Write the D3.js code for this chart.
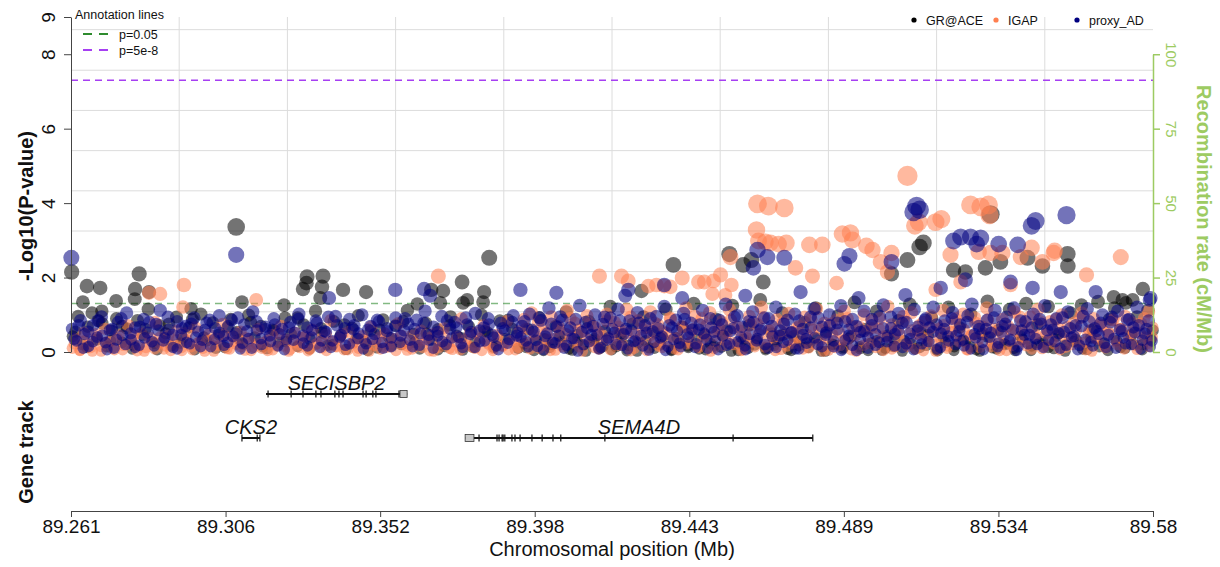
<!DOCTYPE html>
<html>
<head>
<meta charset="utf-8">
<script src="https://cdn.jsdelivr.net/npm/d3@7"></script>
<style>
  body { margin: 0; background: #ffffff; }
  text { font-family: "Liberation Sans", Arial, Helvetica, sans-serif; }
</style>
</head>
<body>
<svg id="chart" width="1220" height="567"></svg>
<script>
// ---- region and axis settings ----
const regionStart = 89.261;
const regionEnd = 89.58;
const xTickLabels = ["89.261", "89.306", "89.352", "89.398", "89.443", "89.489", "89.534", "89.58"];
const yTicks = [0, 2, 4, 6, 8, 9];
const recTicks = [0, 25, 50, 75, 100];
const yGridValues = [1.08, 2.16, 3.25, 4.33, 5.41, 6.49, 7.57, 8.66];
const thresholdNames = ["p=0.05", "p=5e-8"];
const thresholdP = [0.05, 5e-8];

// ---- GR@ACE: [position (Mb), -log10 p] ----
const graceTop = [
  [89.2612, 2.15], [89.2657, 1.77], [89.2696, 1.72], [89.2645, 1.34], [89.2743, 1.37], [89.2701, 1.10],
  [89.2799, 1.69], [89.2811, 2.10], [89.2798, 1.42], [89.2840, 1.61], [89.2964, 1.16], [89.3097, 3.36],
  [89.3114, 1.34], [89.3238, 1.26], [89.3306, 2.02], [89.3304, 1.85], [89.3294, 1.69], [89.3353, 2.04],
  [89.3350, 1.75], [89.3412, 1.67], [89.3480, 1.61], [89.3345, 1.45], [89.3631, 1.29], [89.3699, 1.32],
  [89.3707, 1.64], [89.3672, 1.67], [89.3763, 1.88], [89.3766, 1.32], [89.3778, 1.40], [89.3828, 1.61],
  [89.3825, 1.34], [89.3843, 2.53], [89.4292, 1.64], [89.4386, 2.34], [89.4592, 2.34], [89.4551, 2.63],
  [89.4616, 2.47], [89.4651, 1.88], [89.5029, 2.10], [89.5076, 2.47], [89.5112, 2.82], [89.5123, 2.93],
  [89.5321, 3.70], [89.5548, 2.63], [89.5549, 2.31], [89.5770, 1.69], [89.5684, 1.48], [89.5710, 1.40],
  [89.5740, 1.40], [89.5212, 2.20], [89.5247, 2.15], [89.5350, 2.42], [89.5430, 2.53], [89.5474, 2.31],
  [89.5306, 2.26]
];
const graceBand = [
  [89.2615, 0.42], [89.2631, 0.96], [89.2644, 0.20], [89.2659, 0.68], [89.2672, 1.05], [89.2686, 0.33],
  [89.2702, 0.77], [89.2716, 0.14], [89.2730, 0.58], [89.2744, 0.90], [89.2761, 0.26], [89.2775, 0.63],
  [89.2790, 0.08], [89.2806, 0.85], [89.2822, 0.45], [89.2838, 1.15], [89.2855, 0.24], [89.2871, 0.72],
  [89.2889, 0.50], [89.2905, 0.16], [89.2921, 0.94], [89.2940, 0.38], [89.2958, 0.66], [89.2975, 0.06],
  [89.2993, 1.02], [89.3010, 0.30], [89.3028, 0.79], [89.3046, 0.47], [89.3063, 0.12], [89.3081, 0.88],
  [89.3099, 0.54], [89.3117, 0.21], [89.3134, 0.99], [89.3152, 0.40], [89.3170, 0.70], [89.3188, 0.09],
  [89.3205, 0.60], [89.3223, 0.25], [89.3241, 0.92], [89.3259, 0.48], [89.3278, 0.15], [89.3296, 0.74],
  [89.3314, 0.35], [89.3331, 1.10], [89.3350, 0.52], [89.3367, 0.18], [89.3385, 0.82], [89.3404, 0.43],
  [89.3421, 0.07], [89.3439, 0.65], [89.3457, 0.98], [89.3476, 0.28], [89.3494, 0.57], [89.3512, 0.11],
  [89.3530, 0.87], [89.3548, 0.39], [89.3566, 0.71], [89.3584, 0.20], [89.3602, 1.12], [89.3620, 0.49],
  [89.3638, 0.08], [89.3656, 0.78], [89.3674, 0.32], [89.3692, 0.61], [89.3711, 0.15], [89.3729, 0.95],
  [89.3747, 0.44], [89.3765, 0.05], [89.3783, 0.69], [89.3801, 0.27], [89.3820, 1.00], [89.3838, 0.53],
  [89.3856, 0.13], [89.3874, 0.84], [89.3892, 0.36], [89.3911, 0.62], [89.3928, 0.10],
  [89.3946, 0.22], [89.3958, 0.61], [89.3975, 0.04], [89.3990, 0.93], [89.4006, 0.35], [89.4021, 0.12],
  [89.4039, 0.70], [89.4055, 0.27], [89.4070, 1.08], [89.4088, 0.05], [89.4103, 0.46], [89.4119, 0.18],
  [89.4136, 0.83], [89.4151, 0.31], [89.4168, 0.09], [89.4184, 0.57], [89.4200, 1.22], [89.4217, 0.14],
  [89.4233, 0.40], [89.4249, 0.03], [89.4266, 0.76], [89.4282, 0.25], [89.4298, 0.95], [89.4315, 0.11],
  [89.4331, 0.52], [89.4347, 0.20], [89.4364, 1.15], [89.4380, 0.06], [89.4397, 0.38], [89.4413, 0.67],
  [89.4429, 0.16], [89.4446, 1.30], [89.4462, 0.08], [89.4478, 0.47], [89.4495, 0.23], [89.4511, 0.89],
  [89.4527, 0.13], [89.4544, 0.58], [89.4560, 1.25], [89.4577, 0.04], [89.4593, 0.34], [89.4609, 0.72],
  [89.4626, 0.19], [89.4642, 1.40], [89.4658, 0.10], [89.4675, 0.50], [89.4691, 0.29], [89.4707, 1.05],
  [89.4724, 0.07], [89.4740, 0.43], [89.4756, 0.17], [89.4773, 0.80], [89.4789, 0.26], [89.4805, 1.18],
  [89.4822, 0.02], [89.4838, 0.55], [89.4854, 0.21], [89.4871, 0.97], [89.4887, 0.12], [89.4903, 0.36],
  [89.4920, 1.33], [89.4936, 0.09], [89.4952, 0.62], [89.4969, 0.24], [89.4985, 1.10], [89.5001, 0.05],
  [89.5018, 0.45], [89.5034, 0.15], [89.5050, 0.85], [89.5067, 0.30], [89.5083, 1.28], [89.5099, 0.08],
  [89.5116, 0.53], [89.5132, 0.18], [89.5148, 0.92], [89.5165, 0.03], [89.5181, 0.40], [89.5197, 1.20],
  [89.5214, 0.14], [89.5230, 0.66], [89.5246, 0.27], [89.5263, 1.02], [89.5279, 0.06], [89.5295, 0.48],
  [89.5312, 1.36], [89.5328, 0.11], [89.5344, 0.59], [89.5361, 0.22], [89.5377, 1.14], [89.5393, 0.04],
  [89.5410, 0.42], [89.5426, 1.30], [89.5442, 0.16], [89.5459, 0.74], [89.5475, 0.28], [89.5491, 1.22],
  [89.5508, 0.09], [89.5524, 0.51], [89.5540, 0.19], [89.5557, 1.05], [89.5573, 0.33], [89.5589, 1.26],
  [89.5606, 0.07], [89.5622, 0.60], [89.5638, 1.35], [89.5655, 0.24], [89.5671, 0.88], [89.5687, 1.18],
  [89.5704, 0.12], [89.5720, 1.32], [89.5736, 0.46], [89.5753, 0.95], [89.5769, 0.20], [89.5785, 1.12],
  [89.5799, 0.58]
];
const graceBandExtra = [
  [89.2623, 0.55], [89.2657, 0.12], [89.2692, 0.84], [89.2726, 0.30], [89.2761, 0.70], [89.2795, 0.18],
  [89.2830, 0.62], [89.2864, 0.06], [89.2899, 0.76], [89.2933, 0.24], [89.2968, 0.88], [89.3002, 0.40],
  [89.3037, 0.10], [89.3071, 0.66], [89.3106, 0.34], [89.3140, 0.80], [89.3175, 0.14], [89.3209, 0.58],
  [89.3244, 0.28], [89.3278, 0.92], [89.3313, 0.08], [89.3347, 0.64], [89.3382, 0.20], [89.3416, 0.74],
  [89.3451, 0.36], [89.3485, 0.04], [89.3520, 0.60], [89.3554, 0.16], [89.3589, 0.82], [89.3623, 0.26],
  [89.3658, 0.50], [89.3692, 0.06], [89.3727, 0.72], [89.3761, 0.38], [89.3796, 0.12], [89.3830, 0.56],
  [89.3865, 0.22], [89.3899, 0.86],
  [89.3952, 0.12], [89.3978, 0.30], [89.4003, 0.04], [89.4027, 0.20], [89.4052, 0.42], [89.4078, 0.08],
  [89.4103, 0.26], [89.4128, 0.02], [89.4153, 0.36], [89.4178, 0.14], [89.4204, 0.06], [89.4229, 0.48],
  [89.4254, 0.18], [89.4279, 0.02], [89.4304, 0.30], [89.4330, 0.10], [89.4355, 0.40], [89.4380, 0.04],
  [89.4405, 0.22], [89.4430, 0.12], [89.4456, 0.34], [89.4481, 0.06], [89.4506, 0.16], [89.4531, 0.44],
  [89.4557, 0.02], [89.4582, 0.24], [89.4607, 0.10], [89.4632, 0.32], [89.4658, 0.06], [89.4683, 0.18],
  [89.4708, 0.46], [89.4733, 0.04], [89.4758, 0.28], [89.4784, 0.12], [89.4809, 0.38], [89.4834, 0.02],
  [89.4859, 0.20], [89.4885, 0.08], [89.4910, 0.42], [89.4935, 0.14], [89.4960, 0.04], [89.4986, 0.30],
  [89.5011, 0.10], [89.5036, 0.36], [89.5061, 0.02], [89.5087, 0.22], [89.5112, 0.12], [89.5137, 0.46],
  [89.5162, 0.06], [89.5188, 0.26], [89.5213, 0.04], [89.5238, 0.32], [89.5263, 0.14], [89.5289, 0.02],
  [89.5314, 0.40], [89.5339, 0.08], [89.5364, 0.20], [89.5390, 0.10], [89.5415, 0.34], [89.5440, 0.04],
  [89.5465, 0.24], [89.5491, 0.12], [89.5516, 0.44], [89.5541, 0.02], [89.5566, 0.28], [89.5592, 0.08],
  [89.5617, 0.38], [89.5642, 0.14], [89.5667, 0.04], [89.5693, 0.30], [89.5718, 0.10], [89.5743, 0.20],
  [89.5768, 0.06], [89.5793, 0.34]
];

// ---- IGAP ----
const igapTop = [
  [89.2840, 1.59], [89.2873, 1.56], [89.2943, 1.80], [89.2940, 1.21], [89.3156, 1.40], [89.3693, 2.04],
  [89.4168, 2.04], [89.4233, 2.04], [89.4253, 1.91], [89.4312, 1.77], [89.4336, 1.80], [89.4359, 1.77],
  [89.4377, 1.75], [89.4412, 1.99], [89.4460, 1.88], [89.4477, 1.88], [89.4504, 1.91], [89.4525, 2.07],
  [89.4557, 1.80], [89.4501, 1.56], [89.4539, 1.53], [89.4554, 2.55], [89.4634, 3.98], [89.4666, 3.92],
  [89.4713, 3.87], [89.4631, 3.28], [89.4637, 2.98], [89.4657, 2.96], [89.4672, 2.93], [89.4696, 2.90],
  [89.4719, 2.93], [89.4787, 2.88], [89.4825, 2.88], [89.4884, 3.17], [89.4908, 3.20], [89.4914, 3.01],
  [89.4955, 2.85], [89.4973, 2.74], [89.4997, 2.42], [89.5017, 2.15], [89.5029, 2.66], [89.5076, 4.73],
  [89.5109, 3.49], [89.5098, 3.39], [89.5176, 3.57], [89.5159, 3.49], [89.5262, 3.95], [89.5292, 3.90],
  [89.5315, 3.95], [89.5318, 3.68], [89.5442, 2.80], [89.5510, 2.72], [89.5705, 2.55], [89.5787, 1.08],
  [89.5203, 2.61], [89.5286, 2.69], [89.5321, 2.66], [89.5356, 2.66], [89.5410, 2.55], [89.5507, 2.66],
  [89.5474, 2.42], [89.4746, 2.26], [89.4796, 2.04], [89.4867, 1.85], [89.5159, 1.67], [89.5380, 1.80],
  [89.5604, 2.07], [89.5233, 1.88]
];
const igapBand = [
  [89.2614, 0.10], [89.2624, 0.35], [89.2637, 0.05], [89.2648, 0.52], [89.2660, 0.22], [89.2673, 0.02],
  [89.2686, 0.40], [89.2699, 0.15], [89.2711, 0.62], [89.2724, 0.28], [89.2738, 0.06], [89.2751, 0.45],
  [89.2765, 0.18], [89.2778, 0.72], [89.2792, 0.32], [89.2805, 0.03], [89.2818, 0.50], [89.2831, 0.12],
  [89.2845, 0.38], [89.2858, 0.80], [89.2871, 0.24], [89.2884, 0.08], [89.2897, 0.44], [89.2911, 0.19],
  [89.2924, 0.58], [89.2937, 0.04], [89.2951, 0.33], [89.2964, 0.14], [89.2977, 0.66], [89.2990, 0.27],
  [89.3004, 0.02], [89.3017, 0.48], [89.3030, 0.17], [89.3043, 0.36], [89.3057, 0.75], [89.3070, 0.09],
  [89.3083, 0.42], [89.3097, 0.21], [89.3110, 0.55], [89.3123, 0.05], [89.3136, 0.30], [89.3150, 0.13],
  [89.3163, 0.62], [89.3176, 0.25], [89.3190, 0.04], [89.3203, 0.46], [89.3216, 0.16], [89.3229, 0.70],
  [89.3243, 0.34], [89.3256, 0.07], [89.3269, 0.52], [89.3283, 0.20], [89.3296, 0.39], [89.3309, 0.03],
  [89.3322, 0.60], [89.3336, 0.23], [89.3349, 0.11], [89.3362, 0.47], [89.3376, 0.85], [89.3389, 0.15],
  [89.3402, 0.37], [89.3415, 0.06], [89.3429, 0.54], [89.3442, 0.26], [89.3455, 0.02], [89.3469, 0.43],
  [89.3482, 0.18], [89.3495, 0.68], [89.3508, 0.31], [89.3522, 0.08], [89.3535, 0.50], [89.3548, 0.14],
  [89.3562, 0.35], [89.3575, 0.77], [89.3588, 0.22], [89.3601, 0.05], [89.3615, 0.44], [89.3628, 0.17],
  [89.3641, 0.58], [89.3655, 0.29], [89.3668, 0.03], [89.3681, 0.49], [89.3694, 0.12], [89.3708, 0.64],
  [89.3721, 0.25], [89.3734, 0.07], [89.3748, 0.40], [89.3761, 0.90], [89.3774, 0.19], [89.3787, 0.53],
  [89.3801, 0.10], [89.3814, 0.36], [89.3827, 0.72], [89.3841, 0.21], [89.3854, 0.04], [89.3867, 0.47],
  [89.3880, 0.16], [89.3894, 0.82], [89.3907, 0.30], [89.3920, 0.06], [89.3933, 0.57],
  [89.3945, 0.88], [89.3957, 0.25], [89.3968, 1.05], [89.3980, 0.48], [89.3991, 0.10], [89.4003, 0.72],
  [89.4015, 0.33], [89.4026, 0.95], [89.4038, 0.05], [89.4050, 0.60], [89.4061, 0.20], [89.4073, 1.12],
  [89.4085, 0.42], [89.4096, 0.78], [89.4108, 0.14], [89.4120, 0.55], [89.4131, 0.98], [89.4143, 0.28],
  [89.4155, 0.67], [89.4166, 0.08], [89.4178, 0.45], [89.4190, 1.02], [89.4201, 0.35], [89.4213, 0.80],
  [89.4225, 0.18], [89.4236, 0.58], [89.4248, 1.15], [89.4260, 0.03], [89.4271, 0.50], [89.4283, 0.85],
  [89.4295, 0.22], [89.4306, 0.65], [89.4318, 1.08], [89.4330, 0.30], [89.4341, 0.74], [89.4353, 0.12],
  [89.4365, 0.52], [89.4376, 0.92], [89.4388, 0.38], [89.4400, 0.06], [89.4411, 0.70], [89.4423, 1.18],
  [89.4435, 0.26], [89.4446, 0.62], [89.4458, 0.15], [89.4470, 0.90], [89.4481, 0.44], [89.4493, 1.06],
  [89.4505, 0.09], [89.4516, 0.56], [89.4528, 0.82], [89.4540, 0.32], [89.4551, 1.14], [89.4563, 0.20],
  [89.4575, 0.68], [89.4586, 0.04], [89.4598, 0.47], [89.4610, 0.96], [89.4621, 0.27], [89.4633, 0.75],
  [89.4645, 1.20], [89.4656, 0.13], [89.4668, 0.58], [89.4680, 0.36], [89.4691, 0.88], [89.4703, 0.07],
  [89.4715, 0.50], [89.4726, 1.04], [89.4738, 0.23], [89.4750, 0.66], [89.4761, 0.40], [89.4773, 0.94],
  [89.4785, 0.11], [89.4796, 0.60], [89.4808, 1.16], [89.4820, 0.29], [89.4831, 0.78], [89.4843, 0.05],
  [89.4855, 0.46], [89.4866, 0.86], [89.4878, 0.18], [89.4890, 1.10], [89.4901, 0.34], [89.4913, 0.70],
  [89.4925, 0.02], [89.4936, 0.54], [89.4948, 1.00], [89.4960, 0.24], [89.4971, 0.64], [89.4983, 0.12],
  [89.4995, 0.90], [89.5006, 0.42], [89.5018, 1.22], [89.5030, 0.08], [89.5041, 0.57], [89.5053, 0.31],
  [89.5065, 0.83], [89.5076, 0.15], [89.5088, 1.06], [89.5100, 0.49], [89.5111, 0.72], [89.5123, 0.03],
  [89.5135, 0.38], [89.5146, 0.97], [89.5158, 0.21], [89.5170, 0.63], [89.5181, 1.12], [89.5193, 0.10],
  [89.5205, 0.52], [89.5216, 0.80], [89.5228, 0.28], [89.5240, 1.02], [89.5251, 0.06], [89.5263, 0.45],
  [89.5275, 0.92], [89.5286, 0.35], [89.5298, 0.68], [89.5310, 1.18], [89.5321, 0.14], [89.5333, 0.55],
  [89.5345, 0.25], [89.5356, 0.88], [89.5368, 0.04], [89.5380, 0.60], [89.5391, 1.08], [89.5403, 0.32],
  [89.5415, 0.74], [89.5426, 0.17], [89.5438, 0.95], [89.5450, 0.43], [89.5461, 1.15], [89.5473, 0.09],
  [89.5485, 0.50], [89.5496, 0.82], [89.5508, 0.22], [89.5520, 0.65], [89.5531, 1.00], [89.5543, 0.13],
  [89.5555, 0.40], [89.5566, 0.78], [89.5578, 0.27], [89.5590, 1.05], [89.5601, 0.06], [89.5613, 0.58],
  [89.5625, 0.90], [89.5636, 0.34], [89.5648, 0.70], [89.5660, 0.11], [89.5671, 0.48], [89.5683, 0.86],
  [89.5695, 0.20], [89.5706, 0.62], [89.5718, 0.96], [89.5730, 0.30], [89.5741, 0.53], [89.5753, 0.07],
  [89.5765, 0.76], [89.5776, 0.40], [89.5788, 0.15], [89.5798, 0.66]
];
const igapBandExtra = [
  [89.2620, 0.22], [89.2636, 0.04], [89.2651, 0.30], [89.2668, 0.12], [89.2683, 0.48], [89.2699, 0.02],
  [89.2714, 0.26], [89.2731, 0.10], [89.2746, 0.36], [89.2762, 0.06], [89.2778, 0.20], [89.2794, 0.44],
  [89.2809, 0.14], [89.2826, 0.02], [89.2841, 0.28], [89.2857, 0.08], [89.2873, 0.40], [89.2889, 0.16],
  [89.2904, 0.04], [89.2920, 0.32], [89.2936, 0.12], [89.2952, 0.52], [89.2968, 0.06], [89.2983, 0.24],
  [89.2999, 0.10], [89.3015, 0.34], [89.3031, 0.02], [89.3047, 0.18], [89.3062, 0.46], [89.3078, 0.08],
  [89.3094, 0.28], [89.3110, 0.14], [89.3126, 0.38], [89.3141, 0.04], [89.3157, 0.22], [89.3173, 0.10],
  [89.3189, 0.32], [89.3205, 0.06], [89.3221, 0.50], [89.3236, 0.16], [89.3252, 0.02], [89.3268, 0.26],
  [89.3284, 0.12], [89.3300, 0.42], [89.3315, 0.08], [89.3331, 0.20], [89.3347, 0.36], [89.3363, 0.04],
  [89.3379, 0.28], [89.3394, 0.14], [89.3410, 0.48], [89.3426, 0.06], [89.3442, 0.24], [89.3458, 0.10],
  [89.3473, 0.34], [89.3489, 0.02], [89.3505, 0.18], [89.3521, 0.40], [89.3537, 0.12], [89.3552, 0.26],
  [89.3568, 0.04], [89.3584, 0.44], [89.3600, 0.16], [89.3616, 0.08], [89.3631, 0.30], [89.3647, 0.12],
  [89.3663, 0.38], [89.3679, 0.02], [89.3695, 0.22], [89.3710, 0.46], [89.3726, 0.10], [89.3742, 0.28],
  [89.3758, 0.06], [89.3774, 0.34], [89.3789, 0.14], [89.3805, 0.52], [89.3821, 0.04], [89.3837, 0.26],
  [89.3853, 0.10], [89.3868, 0.40], [89.3884, 0.16], [89.3900, 0.06], [89.3916, 0.32], [89.3930, 0.12],
  [89.3940, 0.30], [89.3952, 0.62], [89.3964, 0.08], [89.3976, 0.44], [89.3987, 0.80], [89.3999, 0.18],
  [89.4011, 0.52], [89.4023, 0.04], [89.4035, 0.36], [89.4047, 0.70], [89.4058, 0.14], [89.4070, 0.48],
  [89.4082, 0.90], [89.4094, 0.24], [89.4106, 0.60], [89.4118, 0.02], [89.4129, 0.38], [89.4141, 0.76],
  [89.4153, 0.12], [89.4165, 0.54], [89.4177, 0.30], [89.4189, 0.84], [89.4200, 0.06], [89.4212, 0.42],
  [89.4224, 0.68], [89.4236, 0.20], [89.4248, 0.50], [89.4260, 0.94], [89.4271, 0.10], [89.4283, 0.34],
  [89.4295, 0.62], [89.4307, 0.04], [89.4319, 0.46], [89.4331, 0.78], [89.4342, 0.16], [89.4354, 0.56],
  [89.4366, 0.28], [89.4378, 0.88], [89.4390, 0.08], [89.4402, 0.40], [89.4413, 0.66], [89.4425, 0.22],
  [89.4437, 0.52], [89.4449, 0.96], [89.4461, 0.12], [89.4473, 0.36], [89.4484, 0.72], [89.4496, 0.02],
  [89.4508, 0.44], [89.4520, 0.64], [89.4532, 0.18], [89.4544, 0.50], [89.4555, 0.86], [89.4567, 0.26],
  [89.4579, 0.58], [89.4591, 0.06], [89.4603, 0.38], [89.4615, 0.74], [89.4626, 0.14], [89.4638, 0.48],
  [89.4650, 0.92], [89.4662, 0.30], [89.4674, 0.60], [89.4686, 0.04], [89.4697, 0.42], [89.4709, 0.80],
  [89.4721, 0.16], [89.4733, 0.54], [89.4745, 0.24], [89.4757, 0.70], [89.4768, 0.08], [89.4780, 0.46],
  [89.4792, 0.88], [89.4804, 0.20], [89.4816, 0.62], [89.4828, 0.02], [89.4839, 0.36], [89.4851, 0.76],
  [89.4863, 0.12], [89.4875, 0.52], [89.4887, 0.32], [89.4899, 0.90], [89.4910, 0.06], [89.4922, 0.44],
  [89.4934, 0.68], [89.4946, 0.18], [89.4958, 0.56], [89.4970, 0.84], [89.4981, 0.28], [89.4993, 0.62],
  [89.5005, 0.04], [89.5017, 0.40], [89.5029, 0.74], [89.5041, 0.14], [89.5052, 0.50], [89.5064, 0.96],
  [89.5076, 0.22], [89.5088, 0.58], [89.5100, 0.08], [89.5112, 0.46], [89.5123, 0.80], [89.5135, 0.26],
  [89.5147, 0.64], [89.5159, 0.02], [89.5171, 0.38], [89.5183, 0.72], [89.5194, 0.16], [89.5206, 0.54],
  [89.5218, 0.90], [89.5230, 0.30], [89.5242, 0.60], [89.5254, 0.06], [89.5265, 0.44], [89.5277, 0.78],
  [89.5289, 0.12], [89.5301, 0.50], [89.5313, 0.86], [89.5325, 0.24], [89.5336, 0.62], [89.5348, 0.04],
  [89.5360, 0.42], [89.5372, 0.70], [89.5384, 0.18], [89.5396, 0.56], [89.5407, 0.94], [89.5419, 0.28],
  [89.5431, 0.64], [89.5443, 0.08], [89.5455, 0.46], [89.5467, 0.82], [89.5478, 0.14], [89.5490, 0.52],
  [89.5502, 0.32], [89.5514, 0.88], [89.5526, 0.06], [89.5538, 0.40], [89.5549, 0.68], [89.5561, 0.20],
  [89.5573, 0.58], [89.5585, 0.92], [89.5597, 0.26], [89.5609, 0.48], [89.5620, 0.02], [89.5632, 0.36],
  [89.5644, 0.74], [89.5656, 0.16], [89.5668, 0.54], [89.5680, 0.86], [89.5691, 0.28], [89.5703, 0.62],
  [89.5715, 0.08], [89.5727, 0.44], [89.5739, 0.78], [89.5751, 0.18], [89.5762, 0.50], [89.5774, 0.90],
  [89.5786, 0.24], [89.5797, 0.40]
];

// ---- proxy_AD ----
const proxyTop = [
  [89.2611, 2.53], [89.3097, 2.61], [89.3651, 1.69], [89.3669, 1.51], [89.3371, 1.45], [89.4253, 1.67],
  [89.4244, 1.51], [89.4359, 1.80], [89.4412, 1.45], [89.4634, 2.74], [89.4663, 2.55], [89.4713, 2.53],
  [89.4622, 2.26], [89.4905, 2.58], [89.4890, 2.37], [89.5029, 2.42], [89.5112, 3.82], [89.5103, 3.92],
  [89.5094, 3.76], [89.5212, 2.98], [89.5233, 3.09], [89.5262, 3.09], [89.5292, 3.06], [89.5280, 2.90],
  [89.5345, 2.90], [89.5401, 2.88], [89.5454, 3.52], [89.5442, 3.39], [89.5545, 3.68], [89.5790, 1.40],
  [89.4598, 1.51], [89.4761, 1.61], [89.4932, 1.45], [89.5070, 1.53], [89.5174, 1.72], [89.5247, 1.94],
  [89.5380, 1.88], [89.5445, 1.72], [89.5528, 1.61], [89.5631, 1.61], [89.5793, 1.45], [89.4041, 1.59],
  [89.3935, 1.67], [89.3566, 1.67]
];
const proxyBand = [
  [89.2613, 0.62], [89.2626, 0.30], [89.2638, 0.85], [89.2650, 0.48], [89.2662, 0.15], [89.2675, 0.72],
  [89.2687, 0.40], [89.2700, 0.95], [89.2712, 0.25], [89.2724, 0.58], [89.2737, 0.10], [89.2749, 0.80],
  [89.2762, 0.45], [89.2774, 1.05], [89.2787, 0.33], [89.2799, 0.66], [89.2811, 0.18], [89.2824, 0.88],
  [89.2836, 0.52], [89.2849, 0.28], [89.2861, 0.75], [89.2873, 1.12], [89.2886, 0.38], [89.2898, 0.60],
  [89.2911, 0.12], [89.2923, 0.82], [89.2935, 0.46], [89.2948, 0.70], [89.2960, 0.22], [89.2973, 0.92],
  [89.2985, 0.55], [89.2997, 0.32], [89.3010, 0.78], [89.3022, 0.14], [89.3035, 0.64], [89.3047, 0.98],
  [89.3059, 0.42], [89.3072, 0.26], [89.3084, 0.86], [89.3096, 0.50], [89.3109, 0.08], [89.3121, 0.74],
  [89.3134, 0.36], [89.3146, 1.08], [89.3158, 0.58], [89.3171, 0.20], [89.3183, 0.68], [89.3196, 0.44],
  [89.3208, 0.90], [89.3220, 0.16], [89.3233, 0.62], [89.3245, 0.34], [89.3257, 0.80], [89.3270, 0.52],
  [89.3282, 1.02], [89.3295, 0.24], [89.3307, 0.66], [89.3319, 0.40], [89.3332, 0.84], [89.3344, 0.12],
  [89.3357, 0.56], [89.3369, 0.94], [89.3381, 0.30], [89.3394, 0.72], [89.3406, 0.46], [89.3419, 0.18],
  [89.3431, 0.88], [89.3443, 0.60], [89.3456, 0.36], [89.3468, 1.00], [89.3480, 0.22], [89.3493, 0.70],
  [89.3505, 0.48], [89.3518, 0.82], [89.3530, 0.10], [89.3542, 0.64], [89.3555, 0.38], [89.3567, 0.92],
  [89.3580, 0.26], [89.3592, 0.58], [89.3604, 0.76], [89.3617, 0.14], [89.3629, 0.86], [89.3641, 0.50],
  [89.3654, 1.10], [89.3666, 0.32], [89.3679, 0.68], [89.3691, 0.44], [89.3703, 0.96], [89.3716, 0.20],
  [89.3728, 0.62], [89.3741, 0.80], [89.3753, 0.40], [89.3765, 0.12], [89.3778, 0.74], [89.3790, 0.54],
  [89.3802, 1.04], [89.3815, 0.28], [89.3827, 0.66], [89.3840, 0.90], [89.3852, 0.46], [89.3864, 0.16],
  [89.3877, 0.78], [89.3889, 0.58], [89.3902, 0.34], [89.3914, 0.98], [89.3926, 0.52],
  [89.3940, 0.70], [89.3951, 0.30], [89.3962, 1.02], [89.3974, 0.55], [89.3985, 0.15], [89.3996, 0.85],
  [89.4008, 0.42], [89.4019, 1.18], [89.4030, 0.26], [89.4042, 0.68], [89.4053, 0.95], [89.4064, 0.10],
  [89.4076, 0.58], [89.4087, 0.36], [89.4098, 0.88], [89.4110, 1.25], [89.4121, 0.20], [89.4132, 0.64],
  [89.4144, 0.46], [89.4155, 1.00], [89.4166, 0.08], [89.4178, 0.75], [89.4189, 0.32], [89.4200, 0.92],
  [89.4212, 0.52], [89.4223, 1.15], [89.4234, 0.18], [89.4246, 0.62], [89.4257, 0.84], [89.4268, 0.28],
  [89.4280, 1.06], [89.4291, 0.44], [89.4302, 0.72], [89.4314, 0.05], [89.4325, 0.56], [89.4336, 0.96],
  [89.4348, 0.38], [89.4359, 1.22], [89.4370, 0.14], [89.4382, 0.66], [89.4393, 0.86], [89.4404, 0.24],
  [89.4416, 1.04], [89.4427, 0.48], [89.4438, 0.78], [89.4450, 0.12], [89.4461, 0.60], [89.4472, 1.12],
  [89.4484, 0.34], [89.4495, 0.90], [89.4506, 0.54], [89.4518, 0.06], [89.4529, 0.74], [89.4540, 1.28],
  [89.4552, 0.22], [89.4563, 0.64], [89.4574, 0.98], [89.4586, 0.40], [89.4597, 0.16], [89.4608, 0.82],
  [89.4620, 1.08], [89.4631, 0.30], [89.4642, 0.58], [89.4654, 0.92], [89.4665, 0.10], [89.4676, 0.70],
  [89.4688, 1.20], [89.4699, 0.44], [89.4710, 0.26], [89.4722, 0.86], [89.4733, 0.52], [89.4744, 1.02],
  [89.4756, 0.08], [89.4767, 0.62], [89.4778, 0.36], [89.4790, 0.94], [89.4801, 1.16], [89.4812, 0.20],
  [89.4824, 0.68], [89.4835, 0.46], [89.4846, 1.00], [89.4858, 0.14], [89.4869, 0.78], [89.4880, 1.24],
  [89.4892, 0.32], [89.4903, 0.60], [89.4914, 0.88], [89.4926, 0.04], [89.4937, 0.54], [89.4948, 1.10],
  [89.4960, 0.40], [89.4971, 0.72], [89.4982, 0.18], [89.4994, 0.96], [89.5005, 1.26], [89.5016, 0.28],
  [89.5028, 0.64], [89.5039, 0.48], [89.5050, 1.04], [89.5062, 0.12], [89.5073, 0.80], [89.5084, 0.36],
  [89.5096, 1.14], [89.5107, 0.58], [89.5118, 0.22], [89.5130, 0.90], [89.5141, 0.66], [89.5152, 1.20],
  [89.5164, 0.08], [89.5175, 0.50], [89.5186, 0.84], [89.5198, 0.30], [89.5209, 1.06], [89.5220, 0.44],
  [89.5232, 0.74], [89.5243, 0.16], [89.5254, 0.98], [89.5266, 1.28], [89.5277, 0.38], [89.5288, 0.62],
  [89.5300, 0.06], [89.5311, 0.86], [89.5322, 0.52], [89.5334, 1.12], [89.5345, 0.24], [89.5356, 0.70],
  [89.5368, 0.94], [89.5379, 0.34], [89.5390, 1.18], [89.5402, 0.14], [89.5413, 0.58], [89.5424, 0.82],
  [89.5436, 0.46], [89.5447, 1.02], [89.5458, 0.20], [89.5470, 0.76], [89.5481, 1.24], [89.5492, 0.32],
  [89.5504, 0.60], [89.5515, 0.90], [89.5526, 0.10], [89.5538, 0.54], [89.5549, 1.08], [89.5560, 0.40],
  [89.5572, 0.72], [89.5583, 0.18], [89.5594, 0.96], [89.5606, 1.16], [89.5617, 0.28], [89.5628, 0.64],
  [89.5640, 0.48], [89.5651, 1.00], [89.5662, 0.12], [89.5674, 0.80], [89.5685, 0.36], [89.5696, 1.10],
  [89.5708, 0.56], [89.5719, 0.22], [89.5730, 0.88], [89.5742, 0.66], [89.5753, 1.20], [89.5764, 0.08],
  [89.5776, 0.50], [89.5787, 0.84], [89.5797, 0.30]
];
const proxyBandExtra = [
  [89.2619, 0.35], [89.2633, 0.72], [89.2646, 0.10], [89.2661, 0.55], [89.2674, 0.28], [89.2689, 0.84],
  [89.2702, 0.44], [89.2716, 0.06], [89.2731, 0.62], [89.2744, 0.33], [89.2758, 0.90], [89.2771, 0.20],
  [89.2786, 0.50], [89.2799, 0.12], [89.2813, 0.68], [89.2827, 0.38], [89.2841, 0.80], [89.2855, 0.16],
  [89.2868, 0.58], [89.2882, 0.30], [89.2896, 0.94], [89.2910, 0.46], [89.2923, 0.08], [89.2937, 0.64],
  [89.2951, 0.26], [89.2965, 0.76], [89.2978, 0.40], [89.2992, 0.14], [89.3006, 0.60], [89.3019, 0.86],
  [89.3033, 0.34], [89.3047, 0.52], [89.3061, 0.18], [89.3074, 0.70], [89.3088, 0.42], [89.3102, 0.92],
  [89.3115, 0.24], [89.3129, 0.56], [89.3143, 0.10], [89.3157, 0.82], [89.3170, 0.36], [89.3184, 0.62],
  [89.3198, 0.28], [89.3211, 0.74], [89.3225, 0.48], [89.3239, 0.06], [89.3253, 0.66], [89.3266, 0.32],
  [89.3280, 0.88], [89.3294, 0.44], [89.3307, 0.16], [89.3321, 0.58], [89.3335, 0.78], [89.3349, 0.30],
  [89.3362, 0.54], [89.3376, 0.12], [89.3390, 0.96], [89.3403, 0.40], [89.3417, 0.64], [89.3431, 0.22],
  [89.3445, 0.72], [89.3458, 0.50], [89.3472, 0.08], [89.3486, 0.60], [89.3499, 0.34], [89.3513, 0.86],
  [89.3527, 0.26], [89.3541, 0.56], [89.3554, 0.14], [89.3568, 0.70], [89.3582, 0.44], [89.3595, 0.90],
  [89.3609, 0.32], [89.3623, 0.62], [89.3637, 0.18], [89.3650, 0.78], [89.3664, 0.46], [89.3678, 0.10],
  [89.3691, 0.54], [89.3705, 0.28], [89.3719, 0.84], [89.3733, 0.38], [89.3746, 0.66], [89.3760, 0.22],
  [89.3774, 0.92], [89.3787, 0.48], [89.3801, 0.12], [89.3815, 0.58], [89.3829, 0.30], [89.3842, 0.74],
  [89.3856, 0.40], [89.3870, 0.06], [89.3883, 0.64], [89.3897, 0.24], [89.3911, 0.80], [89.3924, 0.44],
  [89.3936, 0.40], [89.3947, 0.82], [89.3958, 0.14], [89.3969, 0.60], [89.3981, 0.32], [89.3992, 0.92],
  [89.4003, 0.06], [89.4014, 0.50], [89.4026, 0.76], [89.4037, 0.24], [89.4048, 0.44], [89.4059, 0.86],
  [89.4071, 0.18], [89.4082, 0.66], [89.4093, 0.36], [89.4104, 0.02], [89.4116, 0.54], [89.4127, 0.80],
  [89.4138, 0.28], [89.4149, 0.70], [89.4161, 0.46], [89.4172, 0.12], [89.4183, 0.94], [89.4194, 0.38],
  [89.4206, 0.62], [89.4217, 0.20], [89.4228, 0.84], [89.4239, 0.48], [89.4251, 0.08], [89.4262, 0.58],
  [89.4273, 0.30], [89.4284, 0.78], [89.4296, 0.16], [89.4307, 0.52], [89.4318, 0.90], [89.4329, 0.26],
  [89.4341, 0.64], [89.4352, 0.42], [89.4363, 0.04], [89.4374, 0.72], [89.4386, 0.34], [89.4397, 0.56],
  [89.4408, 0.14], [89.4419, 0.88], [89.4431, 0.40], [89.4442, 0.60], [89.4453, 0.22], [89.4464, 0.74],
  [89.4476, 0.50], [89.4487, 0.10], [89.4498, 0.66], [89.4509, 0.30], [89.4521, 0.86], [89.4532, 0.44],
  [89.4543, 0.18], [89.4554, 0.56], [89.4566, 0.94], [89.4577, 0.28], [89.4588, 0.68], [89.4599, 0.06],
  [89.4611, 0.48], [89.4622, 0.80], [89.4633, 0.36], [89.4644, 0.62], [89.4656, 0.20], [89.4667, 0.90],
  [89.4678, 0.42], [89.4689, 0.12], [89.4701, 0.58], [89.4712, 0.76], [89.4723, 0.32], [89.4734, 0.54],
  [89.4746, 0.08], [89.4757, 0.84], [89.4768, 0.46], [89.4779, 0.24], [89.4791, 0.66], [89.4802, 0.38],
  [89.4813, 0.92], [89.4824, 0.14], [89.4836, 0.52], [89.4847, 0.72], [89.4858, 0.30], [89.4869, 0.60],
  [89.4881, 0.04], [89.4892, 0.82], [89.4903, 0.44], [89.4914, 0.18], [89.4926, 0.70], [89.4937, 0.34],
  [89.4948, 0.56], [89.4959, 0.10], [89.4971, 0.88], [89.4982, 0.48], [89.4993, 0.26], [89.5004, 0.64],
  [89.5016, 0.40], [89.5027, 0.94], [89.5038, 0.16], [89.5049, 0.58], [89.5061, 0.78], [89.5072, 0.22],
  [89.5083, 0.50], [89.5094, 0.06], [89.5106, 0.68], [89.5117, 0.36], [89.5128, 0.86], [89.5139, 0.28],
  [89.5151, 0.54], [89.5162, 0.74], [89.5173, 0.12], [89.5184, 0.62], [89.5196, 0.42], [89.5207, 0.90],
  [89.5218, 0.20], [89.5229, 0.56], [89.5241, 0.32], [89.5252, 0.80], [89.5263, 0.08], [89.5274, 0.48],
  [89.5286, 0.70], [89.5297, 0.26], [89.5308, 0.62], [89.5319, 0.40], [89.5331, 0.92], [89.5342, 0.14],
  [89.5353, 0.54], [89.5364, 0.76], [89.5376, 0.30], [89.5387, 0.60], [89.5398, 0.04], [89.5409, 0.84],
  [89.5421, 0.46], [89.5432, 0.22], [89.5443, 0.66], [89.5454, 0.36], [89.5466, 0.88], [89.5477, 0.12],
  [89.5488, 0.58], [89.5499, 0.74], [89.5511, 0.28], [89.5522, 0.50], [89.5533, 0.92], [89.5544, 0.18],
  [89.5556, 0.64], [89.5567, 0.42], [89.5578, 0.06], [89.5589, 0.70], [89.5601, 0.34], [89.5612, 0.82],
  [89.5623, 0.16], [89.5634, 0.56], [89.5646, 0.78], [89.5657, 0.24], [89.5668, 0.46], [89.5679, 0.94],
  [89.5691, 0.10], [89.5702, 0.60], [89.5713, 0.38], [89.5724, 0.86], [89.5736, 0.20], [89.5747, 0.52],
  [89.5758, 0.72], [89.5769, 0.32], [89.5781, 0.62], [89.5792, 0.14]
];

// ---- genes (Mb) ----
const geneNames = ["SECISBP2", "CKS2", "SEMA4D"];
const geneStart = [89.3185, 89.3114, 89.3772];
const geneEnd = [89.3601, 89.3167, 89.4797];
const geneRow = [0, 1, 1];
const geneExons = [
  [89.3191, 89.3259, 89.3294, 89.3332, 89.3347, 89.3388, 89.3400, 89.3412, 89.3471, 89.3480, 89.3500, 89.3509, 89.3577],
  [89.3114, 89.3159, 89.3167],
  [89.3813, 89.3866, 89.3872, 89.3881, 89.3884, 89.3889, 89.3910, 89.3919, 89.3934, 89.3969, 89.3999, 89.4031, 89.4054, 89.4184, 89.4562, 89.4797]
];
const geneUtr = [[89.3580, 89.3601], null, [89.3772, 89.3798]];

// ---- drawing ----
const svg = d3.select("#chart");
const x = d3.scaleLinear().domain([regionStart, regionEnd]).range([71, 1153]);
const y = d3.scaleLinear().domain([0, 9]).range([352, 17]);
const yRec = d3.scaleLinear().domain([0, 112.5]).range([352, 17]);
const radius = d3.scaleLinear().domain([0, 5]).range([5.6, 10.4]);
const recGreen = "#9dcb62";

// grid
const grid = svg.append("g");
grid.selectAll("line.h").data(yGridValues).join("line")
  .attr("x1", x(regionStart)).attr("x2", x(regionEnd))
  .attr("y1", d => y(d)).attr("y2", d => y(d))
  .attr("stroke", "#dcdcdc").attr("stroke-width", 1);
const xGridValues = d3.range(1, 10).map(i => regionStart + i * (regionEnd - regionStart) / 10);
grid.selectAll("line.v").data(xGridValues).join("line")
  .attr("x1", d => x(d)).attr("x2", d => x(d))
  .attr("y1", y(9)).attr("y2", y(0))
  .attr("stroke", "#dcdcdc").attr("stroke-width", 1);

// significance lines
const thresholdColors = ["#2e8b2e", "#a63ff2"];
svg.append("g").selectAll("line").data(thresholdP).join("line")
  .attr("x1", x(regionStart)).attr("x2", x(regionEnd))
  .attr("y1", d => y(-Math.log10(d))).attr("y2", d => y(-Math.log10(d)))
  .attr("stroke", (d, i) => thresholdColors[i])
  .attr("stroke-opacity", (d, i) => i === 0 ? 0.6 : 1)
  .attr("stroke-width", 1.5).attr("stroke-dasharray", "7,5");

// association points
const seriesList = [
  { name: "GR@ACE", color: "#000000", snps: graceBand.concat(graceBandExtra, graceTop) },
  { name: "IGAP", color: "#ff7f50", snps: igapBand.concat(igapBandExtra, igapTop) },
  { name: "proxy_AD", color: "#000080", snps: proxyBand.concat(proxyBandExtra, proxyTop) }
];
seriesList.forEach(s => {
  svg.append("g").selectAll("circle").data(s.snps).join("circle")
    .attr("cx", d => x(d[0])).attr("cy", d => y(d[1])).attr("r", d => radius(d[1]))
    .attr("fill", s.color).attr("fill-opacity", 0.55);
});

// left axis
const axisFont = "\"Liberation Sans\", Arial, sans-serif";
const gLeft = svg.append("g").attr("transform", `translate(${x(regionStart)},0)`)
  .call(d3.axisLeft(y).tickValues(yTicks).tickSize(7).tickSizeOuter(0));
gLeft.select(".domain").attr("stroke", "#444");
gLeft.selectAll(".tick line").attr("stroke", "#444");
gLeft.selectAll(".tick text")
  .attr("transform", "rotate(-90)").attr("x", 0).attr("y", -16).attr("dy", 0)
  .attr("text-anchor", "middle").attr("font-size", 19).attr("font-family", axisFont).attr("fill", "#111");

// right recombination axis
const recAxisScale = d3.scaleLinear().domain([0, 100]).range([yRec(0), yRec(100)]);
const gRight = svg.append("g").attr("transform", `translate(${x(regionEnd)},0)`)
  .call(d3.axisRight(recAxisScale).tickValues(recTicks).tickSize(7).tickSizeOuter(0));
gRight.select(".domain").attr("stroke", recGreen).attr("stroke-width", 1.5);
gRight.selectAll(".tick line").attr("stroke", recGreen).attr("stroke-width", 1.5);
gRight.selectAll(".tick text")
  .attr("transform", "rotate(90)").attr("x", 0).attr("y", -13).attr("dy", 0)
  .attr("text-anchor", "middle").attr("font-size", 15).attr("font-family", axisFont).attr("fill", recGreen);

// bottom axis
const xTickPositions = d3.range(xTickLabels.length).map(i => regionStart + i * (regionEnd - regionStart) / (xTickLabels.length - 1));
const gBottom = svg.append("g").attr("transform", "translate(0,511)")
  .call(d3.axisBottom(x).tickValues(xTickPositions).tickFormat((d, i) => xTickLabels[i]).tickSize(6).tickSizeOuter(0));
gBottom.select(".domain").attr("stroke", "#444");
gBottom.selectAll(".tick line").attr("stroke", "#444");
gBottom.selectAll(".tick text").attr("font-size", 19).attr("font-family", axisFont).attr("fill", "#111");

// titles
svg.append("text").attr("transform", "translate(33,206) rotate(-90)")
  .attr("text-anchor", "middle").attr("font-size", 20).attr("font-weight", "bold").attr("fill", "#111")
  .text("-Log10(P-value)");
svg.append("text").attr("transform", "translate(33,452) rotate(-90)")
  .attr("text-anchor", "middle").attr("font-size", 20).attr("font-weight", "bold").attr("fill", "#111")
  .text("Gene track");
svg.append("text").attr("transform", "translate(1197,219) rotate(90)")
  .attr("text-anchor", "middle").attr("font-size", 20).attr("font-weight", "bold").attr("fill", recGreen)
  .text("Recombination rate (cM/Mb)");
svg.append("text").attr("x", (x(regionStart) + x(regionEnd)) / 2).attr("y", 556)
  .attr("text-anchor", "middle").attr("font-size", 20).attr("fill", "#111")
  .text("Chromosomal position (Mb)");

// gene track
const rowY = d3.scalePoint().domain([0, 1]).range([394, 438]);
const genes = geneNames.map((n, i) => ({ name: n, start: geneStart[i], end: geneEnd[i], row: geneRow[i], exons: geneExons[i], utr: geneUtr[i] }));
const gGenes = svg.append("g");
genes.forEach(g => {
  const gy = rowY(g.row);
  gGenes.append("line").attr("x1", x(g.start)).attr("x2", x(g.end)).attr("y1", gy).attr("y2", gy)
    .attr("stroke", "#111").attr("stroke-width", 2);
  gGenes.selectAll(null).data(g.exons).join("line")
    .attr("x1", d => x(d)).attr("x2", d => x(d)).attr("y1", gy - 3.5).attr("y2", gy + 3.5)
    .attr("stroke", "#111").attr("stroke-width", 1.2);
  if (g.utr) {
    gGenes.append("rect").attr("x", x(g.utr[0])).attr("y", gy - 3.5)
      .attr("width", x(g.utr[1]) - x(g.utr[0])).attr("height", 7)
      .attr("fill", "#c8c8c8").attr("stroke", "#333").attr("stroke-width", 0.8);
  }
  gGenes.append("text").attr("x", (x(g.start) + x(g.end)) / 2).attr("y", gy - 4)
    .attr("text-anchor", "middle").attr("font-size", 20).attr("font-style", "italic").attr("fill", "#111")
    .text(g.name);
});

// annotation legend
svg.append("text").attr("x", 75).attr("y", 19).attr("font-size", 12.5).attr("fill", "#111").text("Annotation lines");
const legA = svg.append("g");
thresholdNames.forEach((n, i) => {
  const ly = 34 + i * 16;
  legA.append("line").attr("x1", 83).attr("x2", 108).attr("y1", ly).attr("y2", ly)
    .attr("stroke", thresholdColors[i]).attr("stroke-width", 1.8).attr("stroke-dasharray", "9,7");
  legA.append("text").attr("x", 119).attr("y", ly + 4.5).attr("font-size", 12.5).attr("fill", "#111").text(n);
});

// study legend
const legendX = [914, 996, 1077];
const legS = svg.append("g");
seriesList.forEach((s, i) => {
  legS.append("circle").attr("cx", legendX[i]).attr("cy", 20).attr("r", 2.6).attr("fill", s.color);
  legS.append("text").attr("x", legendX[i] + 12).attr("y", 24.5).attr("font-size", 12.5).attr("fill", "#111").text(s.name);
});
</script>
</body>
</html>
